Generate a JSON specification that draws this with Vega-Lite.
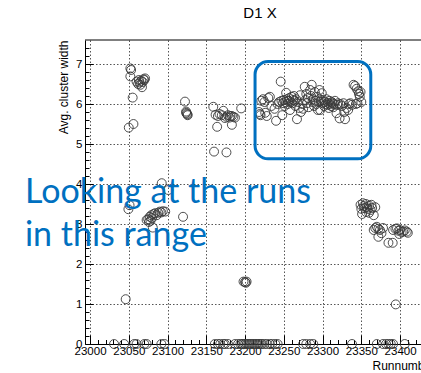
{
  "$schema": "https://vega.github.io/schema/vega-lite/v6.json",
  "autosize": "none",
  "width": 336,
  "height": 304,
  "padding": {"left": 85, "top": 40, "right": 0, "bottom": 29},
  "background": "white",
  "config": {"view": {"stroke": null}},
  "title": {"text": "D1 X", "font": "Liberation Sans", "fontSize": 15, "fontWeight": "normal", "color": "#000", "anchor": "middle", "dx": 7, "offset": 19},
  "resolve": {"axis": {"x": "independent", "y": "independent"}},
  "layer": [
    {
      "data": {"values": [
        {"run": 23052, "width": 6.89}, {"run": 23053, "width": 6.85}, {"run": 23052, "width": 6.69}, {"run": 23055, "width": 6.16},
        {"run": 23056, "width": 5.5}, {"run": 23050, "width": 5.41}, {"run": 23060, "width": 6.56}, {"run": 23062, "width": 6.5},
        {"run": 23063, "width": 6.6}, {"run": 23064, "width": 6.54}, {"run": 23065, "width": 6.48}, {"run": 23066, "width": 6.58},
        {"run": 23067, "width": 6.42}, {"run": 23068, "width": 6.55}, {"run": 23069, "width": 6.62}, {"run": 23070, "width": 6.6},
        {"run": 23071, "width": 6.64},
        {"run": 23122.5, "width": 6.06}, {"run": 23124, "width": 5.81}, {"run": 23125, "width": 5.76}, {"run": 23126, "width": 5.72},
        {"run": 23124, "width": 5.78}, {"run": 23125.5, "width": 5.74},
        {"run": 23159, "width": 5.93}, {"run": 23162, "width": 5.73}, {"run": 23164, "width": 5.43}, {"run": 23165, "width": 5.7},
        {"run": 23167, "width": 5.75}, {"run": 23170, "width": 5.72}, {"run": 23172, "width": 5.83}, {"run": 23174, "width": 5.65},
        {"run": 23176, "width": 5.68}, {"run": 23178, "width": 5.72}, {"run": 23180, "width": 5.66}, {"run": 23181, "width": 5.7},
        {"run": 23183, "width": 5.7}, {"run": 23183, "width": 5.48}, {"run": 23185, "width": 5.68}, {"run": 23187, "width": 5.66},
        {"run": 23195, "width": 5.89}, {"run": 23160, "width": 4.81}, {"run": 23176, "width": 4.79},
        {"run": 23218, "width": 5.8}, {"run": 23219, "width": 5.75}, {"run": 23220, "width": 5.72}, {"run": 23221, "width": 6.08},
        {"run": 23223, "width": 6.12}, {"run": 23225, "width": 6.05}, {"run": 23226, "width": 5.78}, {"run": 23228, "width": 5.7},
        {"run": 23230, "width": 6.15}, {"run": 23232, "width": 6.18}, {"run": 23234, "width": 5.95}, {"run": 23238, "width": 5.88},
        {"run": 23240, "width": 5.58}, {"run": 23242, "width": 6.0}, {"run": 23244, "width": 6.05}, {"run": 23246, "width": 6.56},
        {"run": 23247, "width": 6.08}, {"run": 23248, "width": 5.72}, {"run": 23249, "width": 6.02}, {"run": 23250, "width": 6.1},
        {"run": 23251, "width": 5.95}, {"run": 23252, "width": 6.05}, {"run": 23253, "width": 6.28}, {"run": 23254, "width": 6.12},
        {"run": 23255, "width": 6.0}, {"run": 23256, "width": 6.08}, {"run": 23257, "width": 6.15}, {"run": 23258, "width": 5.85},
        {"run": 23259, "width": 6.05}, {"run": 23260, "width": 6.18}, {"run": 23261, "width": 6.02}, {"run": 23262, "width": 6.1},
        {"run": 23263, "width": 6.2}, {"run": 23264, "width": 6.08}, {"run": 23265, "width": 5.95}, {"run": 23266, "width": 6.12},
        {"run": 23267, "width": 5.62}, {"run": 23268, "width": 6.05}, {"run": 23270, "width": 5.9}, {"run": 23271, "width": 6.22},
        {"run": 23272, "width": 5.8}, {"run": 23274, "width": 6.0}, {"run": 23275, "width": 5.88}, {"run": 23277, "width": 6.43},
        {"run": 23278, "width": 6.1}, {"run": 23279, "width": 6.25}, {"run": 23280, "width": 6.02}, {"run": 23281, "width": 6.15},
        {"run": 23282, "width": 5.92}, {"run": 23284, "width": 6.35}, {"run": 23285, "width": 6.2}, {"run": 23286, "width": 6.48},
        {"run": 23287, "width": 6.05}, {"run": 23288, "width": 6.12}, {"run": 23289, "width": 5.95}, {"run": 23290, "width": 6.3},
        {"run": 23291, "width": 6.08}, {"run": 23292, "width": 6.0}, {"run": 23293, "width": 6.18}, {"run": 23294, "width": 5.85},
        {"run": 23295, "width": 6.05}, {"run": 23296, "width": 6.35}, {"run": 23297, "width": 5.85}, {"run": 23298, "width": 6.1},
        {"run": 23299, "width": 6.27}, {"run": 23300, "width": 6.02}, {"run": 23301, "width": 6.1}, {"run": 23302, "width": 5.95},
        {"run": 23303, "width": 6.05}, {"run": 23304, "width": 6.0}, {"run": 23305, "width": 6.12}, {"run": 23306, "width": 5.98},
        {"run": 23307, "width": 6.03}, {"run": 23308, "width": 5.9}, {"run": 23309, "width": 6.08}, {"run": 23310, "width": 6.0},
        {"run": 23311, "width": 5.95}, {"run": 23312, "width": 6.05}, {"run": 23313, "width": 6.02}, {"run": 23314, "width": 5.92},
        {"run": 23315, "width": 6.0}, {"run": 23316, "width": 6.08}, {"run": 23318, "width": 5.77}, {"run": 23319, "width": 5.98},
        {"run": 23320, "width": 6.02}, {"run": 23322, "width": 5.64}, {"run": 23323, "width": 6.0}, {"run": 23325, "width": 5.95},
        {"run": 23327, "width": 6.02}, {"run": 23328, "width": 5.8}, {"run": 23329, "width": 5.62}, {"run": 23331, "width": 5.9},
        {"run": 23333, "width": 5.85}, {"run": 23334, "width": 6.0}, {"run": 23336, "width": 6.02}, {"run": 23338, "width": 5.98},
        {"run": 23340, "width": 6.48}, {"run": 23342, "width": 6.45}, {"run": 23343, "width": 6.0}, {"run": 23344, "width": 6.38},
        {"run": 23345, "width": 6.02}, {"run": 23346, "width": 6.32}, {"run": 23347, "width": 6.25}, {"run": 23348, "width": 6.18},
        {"run": 23349, "width": 6.3}, {"run": 23350, "width": 6.05},
        {"run": 23046, "width": 1.12}, {"run": 23049.5, "width": 3.37}, {"run": 23051, "width": 3.47}, {"run": 23092.5, "width": 4.02},
        {"run": 23101, "width": 3.85}, {"run": 23073, "width": 3.1}, {"run": 23075, "width": 3.12}, {"run": 23077, "width": 3.18},
        {"run": 23079, "width": 3.22}, {"run": 23080, "width": 3.15}, {"run": 23082, "width": 3.25}, {"run": 23084, "width": 3.27},
        {"run": 23086, "width": 3.22}, {"run": 23088, "width": 3.28}, {"run": 23090, "width": 3.31}, {"run": 23092, "width": 3.29},
        {"run": 23094, "width": 3.32}, {"run": 23097, "width": 3.31}, {"run": 23081, "width": 2.91}, {"run": 23120, "width": 3.18},
        {"run": 23076, "width": 3.05}, {"run": 23078, "width": 3.08},
        {"run": 23198, "width": 1.56}, {"run": 23200, "width": 1.55}, {"run": 23202, "width": 1.56}, {"run": 23201, "width": 1.53},
        {"run": 23349, "width": 3.48}, {"run": 23352, "width": 3.52}, {"run": 23356, "width": 3.5}, {"run": 23360, "width": 3.46},
        {"run": 23363, "width": 3.48}, {"run": 23350, "width": 3.38}, {"run": 23354, "width": 3.4}, {"run": 23358, "width": 3.38},
        {"run": 23362, "width": 3.35}, {"run": 23351, "width": 3.25}, {"run": 23356, "width": 3.3}, {"run": 23366, "width": 3.22},
        {"run": 23360, "width": 3.28}, {"run": 23364, "width": 3.4}, {"run": 23368, "width": 3.42}, {"run": 23353, "width": 3.45},
        {"run": 23357, "width": 3.42},
        {"run": 23368, "width": 2.9}, {"run": 23370, "width": 2.93}, {"run": 23372, "width": 2.88}, {"run": 23374, "width": 2.85},
        {"run": 23376, "width": 2.77}, {"run": 23372, "width": 2.68}, {"run": 23378, "width": 2.9}, {"run": 23366, "width": 2.85},
        {"run": 23385, "width": 2.53}, {"run": 23390.5, "width": 2.53}, {"run": 23391, "width": 2.85}, {"run": 23394, "width": 2.88},
        {"run": 23396, "width": 2.89}, {"run": 23398, "width": 2.83}, {"run": 23400, "width": 2.85}, {"run": 23402, "width": 2.8},
        {"run": 23404, "width": 2.81}, {"run": 23406, "width": 2.84}, {"run": 23408.6, "width": 2.81}, {"run": 23410, "width": 2.78},
        {"run": 23399, "width": 2.75}, {"run": 23394.4, "width": 0.99},
        {"run": 23031, "width": 0}, {"run": 23044, "width": 0}, {"run": 23057, "width": 0}, {"run": 23060, "width": 0},
        {"run": 23070, "width": 0}, {"run": 23073, "width": 0}, {"run": 23092, "width": 0}, {"run": 23096, "width": 0},
        {"run": 23161, "width": 0}, {"run": 23165, "width": 0}, {"run": 23168, "width": 0}, {"run": 23172, "width": 0},
        {"run": 23174, "width": 0}, {"run": 23178, "width": 0}, {"run": 23187, "width": 0}, {"run": 23191, "width": 0},
        {"run": 23194, "width": 0}, {"run": 23196, "width": 0}, {"run": 23198, "width": 0}, {"run": 23200, "width": 0},
        {"run": 23202, "width": 0}, {"run": 23204, "width": 0}, {"run": 23206, "width": 0}, {"run": 23208, "width": 0},
        {"run": 23210, "width": 0}, {"run": 23212, "width": 0}, {"run": 23214, "width": 0}, {"run": 23216, "width": 0},
        {"run": 23218, "width": 0}, {"run": 23220, "width": 0}, {"run": 23222, "width": 0}, {"run": 23225, "width": 0},
        {"run": 23228, "width": 0}, {"run": 23232, "width": 0}, {"run": 23235, "width": 0}, {"run": 23239, "width": 0},
        {"run": 23242, "width": 0}, {"run": 23275, "width": 0}, {"run": 23279, "width": 0}, {"run": 23284, "width": 0},
        {"run": 23288, "width": 0}, {"run": 23338, "width": 0}, {"run": 23370, "width": 0}, {"run": 23378, "width": 0},
        {"run": 23382, "width": 0}, {"run": 23385, "width": 0}, {"run": 23388, "width": 0}, {"run": 23391, "width": 0},
        {"run": 23406, "width": 0}
      ]},
      "mark": {"type": "point", "shape": "circle", "filled": false, "stroke": "#3a3a3a", "strokeWidth": 0.9, "size": 80, "opacity": 1},
      "encoding": {
        "x": {
          "field": "run", "type": "quantitative",
          "scale": {"domain": [22993.5, 23427], "nice": false, "zero": false},
          "axis": {
            "orient": "bottom",
            "title": "Runnumber",
            "values": [23000, 23050, 23100, 23150, 23200, 23250, 23300, 23350, 23400],
            "format": "d",
            "tickSize": -9, "tickColor": "#000", "domainColor": "#000",
            "grid": true, "gridDash": [1.5, 2], "gridColor": "#555",
            "labelFont": "Liberation Sans", "labelFontSize": 11.5, "labelColor": "#000",
            "labelPadding": 10, "labelFlush": false, "labelOverlap": false,
            "titleFont": "Liberation Sans", "titleFontSize": 12, "titleFontWeight": "normal", "titleColor": "#000",
            "titleX": 287, "titleY": 25, "titleAlign": "left", "titleBaseline": "alphabetic", "titleAnchor": "start"
          }
        },
        "y": {
          "field": "width", "type": "quantitative",
          "scale": {"domain": [0, 7.6], "nice": false, "zero": false},
          "axis": {
            "orient": "left",
            "title": "Avg. cluster width",
            "values": [0, 1, 2, 3, 4, 5, 6, 7],
            "format": "d",
            "tickSize": -8, "tickColor": "#000", "domainColor": "#000",
            "grid": true, "gridDash": [1.5, 2], "gridColor": "#555",
            "labelFont": "Liberation Sans", "labelFontSize": 11.5, "labelColor": "#000",
            "labelPadding": 11, "labelFlush": false, "labelOverlap": false,
            "titleFont": "Liberation Sans", "titleFontSize": 12, "titleFontWeight": "normal", "titleColor": "#000",
            "titleAngle": -90, "titleX": -22, "titleY": 0, "titleAlign": "right", "titleBaseline": "middle", "titleAnchor": "end"
          }
        }
      }
    },
    {
      "data": {"values": [{"run": 23212.9, "run2": 23362.2, "width": 7.06, "width2": 4.63}]},
      "mark": {"type": "rect", "fill": null, "fillOpacity": 0, "stroke": "#0070C0", "strokeWidth": 3, "cornerRadius": 13},
      "encoding": {
        "x": {"field": "run", "type": "quantitative", "scale": {"domain": [22993.5, 23427], "nice": false, "zero": false}, "axis": null},
        "x2": {"field": "run2"},
        "y": {"field": "width", "type": "quantitative", "scale": {"domain": [0, 7.6], "nice": false, "zero": false}, "axis": null},
        "y2": {"field": "width2"}
      }
    },
    {
      "data": {"values": [{"run": 22993.5, "run2": 23427, "width": 7.6}]},
      "mark": {"type": "rule", "color": "#000", "strokeWidth": 1},
      "encoding": {
        "x": {
          "field": "run", "type": "quantitative",
          "scale": {"domain": [22993.5, 23427], "nice": false, "zero": false},
          "axis": {
            "orient": "bottom", "title": null, "labels": false, "domain": false, "grid": false,
            "values": [23010,23020,23030,23040,23060,23070,23080,23090,23110,23120,23130,23140,23160,23170,23180,23190,23210,23220,23230,23240,23260,23270,23280,23290,23310,23320,23330,23340,23360,23370,23380,23390,23410,23420],
            "tickSize": -4.5, "tickColor": "#000"
          }
        },
        "x2": {"field": "run2"},
        "y": {
          "field": "width", "type": "quantitative",
          "scale": {"domain": [0, 7.6], "nice": false, "zero": false},
          "axis": {
            "orient": "left", "title": null, "labels": false, "domain": false, "grid": false,
            "values": [0.2,0.4,0.6,0.8,1.2,1.4,1.6,1.8,2.2,2.4,2.6,2.8,3.2,3.4,3.6,3.8,4.2,4.4,4.6,4.8,5.2,5.4,5.6,5.8,6.2,6.4,6.6,6.8,7.2,7.4],
            "tickSize": -4, "tickColor": "#000"
          }
        }
      }
    },
    {
      "data": {"values": [
        {"run": 22916, "width": 3.525, "note": "Looking at the runs"},
        {"run": 22916, "width": 2.45, "note": "in this range"}
      ]},
      "mark": {"type": "text", "align": "left", "baseline": "alphabetic", "font": "Lato", "fontSize": 34, "color": "#0070C0"},
      "encoding": {
        "x": {"field": "run", "type": "quantitative", "scale": {"domain": [22993.5, 23427], "nice": false, "zero": false}, "axis": null},
        "y": {"field": "width", "type": "quantitative", "scale": {"domain": [0, 7.6], "nice": false, "zero": false}, "axis": null},
        "text": {"field": "note"}
      }
    }
  ]
}
